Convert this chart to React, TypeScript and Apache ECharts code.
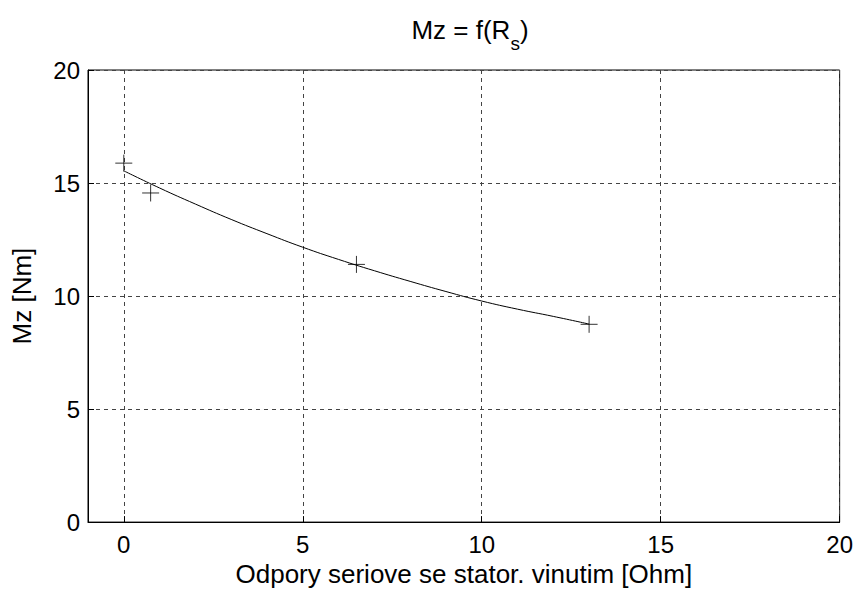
import React, { useEffect, useRef } from "react";
import * as echarts from "echarts";

const rsMeasured = [0, 0.75, 6.5, 13.0];
const mzMeasured = [15.88, 14.56, 11.4, 8.75];

const rsFit = [0, 1, 2, 3, 4, 5, 6, 7, 8, 9, 10, 11, 12, 13];
const mzFit = [15.54, 14.78, 14.07, 13.39, 12.76, 12.16, 11.62, 11.12, 10.65, 10.2, 9.78, 9.42, 9.1, 8.76];

const xTicks = [0, 5, 10, 15, 20];

const FONT = "Liberation Sans";

export default function App() {
  const ref = useRef<HTMLDivElement>(null);
  useEffect(() => {
    if (!ref.current) return;
    const chart = echarts.init(ref.current, undefined, { renderer: "svg" });
    const plus = "path://M0,8L16,8M8,0L8,16";
    chart.setOption({
      animation: false,
      backgroundColor: "#fff",
      title: {
        text: "{n|Mz = f(R}{sub|s}{n|)}",
        left: 465,
        textAlign: "center",
        top: 12,
        textStyle: {
          fontFamily: FONT,
          fontWeight: "normal",
          color: "#000",
          rich: {
            n: { fontFamily: FONT, fontSize: 26, color: "#000", verticalAlign: "top", lineHeight: 36 },
            sub: { fontFamily: FONT, fontSize: 19, color: "#000", verticalAlign: "bottom", lineHeight: 36, padding: [22, 0, 0, 0] },
          },
        },
      },
      grid: {
        left: 88,
        right: 16,
        top: 70,
        bottom: 68,
        show: true,
        borderColor: "#000",
        borderWidth: 1,
        containLabel: false,
      },
      xAxis: {
        type: "value",
        min: -1,
        max: 20,
        name: "Odpory seriove se stator. vinutim [Ohm]",
        nameLocation: "middle",
        nameGap: 33,
        nameTextStyle: { fontFamily: FONT, fontSize: 26, color: "#000" },
        axisLine: { show: true, onZero: false, lineStyle: { color: "#000", width: 1 } },
        axisTick: { show: true, inside: true, length: 6, customValues: xTicks, lineStyle: { color: "#000" } },
        axisLabel: { customValues: xTicks, fontFamily: FONT, fontSize: 24, color: "#000", margin: 10 },
        splitLine: { show: true, lineStyle: { color: "#444", type: [4, 4], width: 1 } },
      },
      yAxis: {
        type: "value",
        min: 0,
        max: 20,
        interval: 5,
        name: "Mz [Nm]",
        nameLocation: "middle",
        nameGap: 53,
        nameRotate: 90,
        nameTextStyle: { fontFamily: FONT, fontSize: 26, color: "#000" },
        axisLine: { show: true, onZero: false, lineStyle: { color: "#000", width: 1 } },
        axisTick: { show: true, inside: true, length: 6, lineStyle: { color: "#000" } },
        axisLabel: { fontFamily: FONT, fontSize: 24, color: "#000", margin: 8 },
        splitLine: { show: true, lineStyle: { color: "#444", type: [4, 4], width: 1 } },
      },
      series: [
        {
          type: "line",
          data: rsFit.map((x, i) => [x, mzFit[i]]),
          showSymbol: false,
          smooth: true,
          lineStyle: { color: "#000", width: 1 },
          itemStyle: { color: "#000" },
          z: 3,
        },
        {
          type: "scatter",
          data: rsMeasured.map((x, i) => [x, mzMeasured[i]]),
          symbol: plus,
          symbolSize: 17,
          itemStyle: { color: "none", borderColor: "#000", borderWidth: 1 },
          z: 4,
        },
      ],
    });
    return () => chart.dispose();
  }, []);
  return (
    <div
      ref={ref}
      style={{ position: "fixed", left: 0, top: 0, width: 856, height: 592, background: "#fff" }}
    />
  );
}
